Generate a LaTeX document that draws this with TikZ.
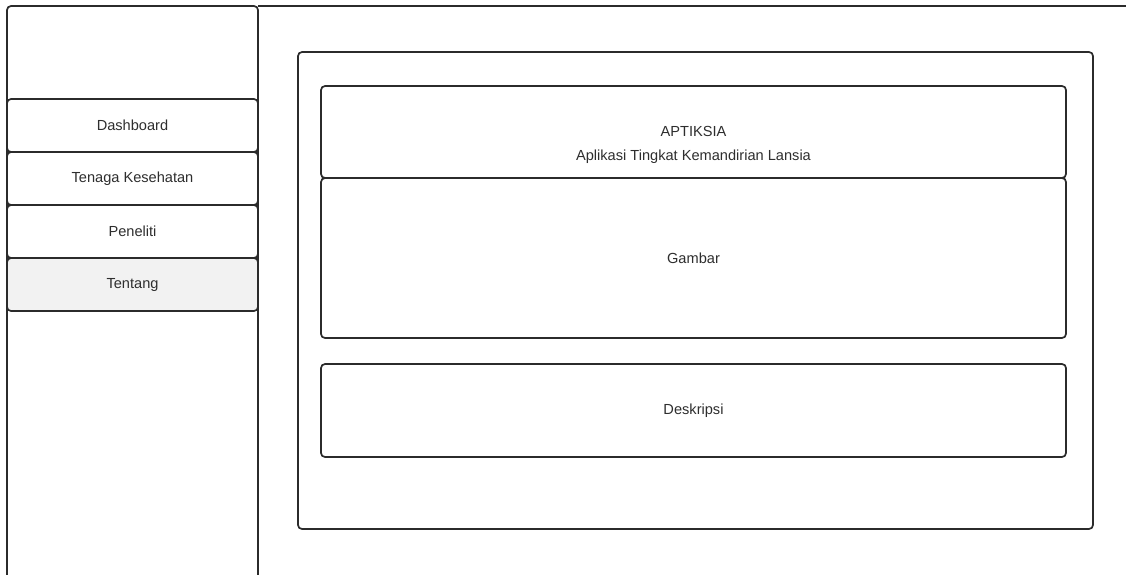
\documentclass[tikz,border=0pt]{standalone}
\usepackage{fontspec}
\setmainfont{Liberation Sans}
\definecolor{edge}{HTML}{2B2B2B}
\definecolor{activefill}{HTML}{F2F2F2}
\definecolor{label}{HTML}{2E2E2E}
\begin{document}
\begin{tikzpicture}[x=1pt, y=-1pt,
  frame/.style={draw=edge, line width=1.7pt, rounded corners=4pt},
  box/.style={frame, rectangle, anchor=north west, inner sep=0pt, outer sep=0pt,
    fill=white, text=label, font=\fontsize{14.6}{17}\selectfont},
  menuitem/.style={box, minimum width=251pt, minimum height=53pt},
  txt/.style={text=label, font=\fontsize{14.6}{17}\selectfont, inner sep=0pt}]
\useasboundingbox (0,0) rectangle (1126,574);

% sidebar (open at the bottom) and top bar line
\coordinate (sbl) at (7,580);
\coordinate (sbr) at (258,580);
\coordinate (tr) at (1130,6);
\draw[frame] (sbl) -- (7,6) -- (258,6) -- (sbr);
\draw[draw=edge, line width=1.7pt] (258,6) -- (tr);

% menu entries
\node[menuitem] (dash) at (7,99) {};
\node[txt] at (dash.center) {Dashboard};
\node[menuitem] (tenaga) at (7,152) {};
\node[txt] at (tenaga.center) {Tenaga Kesehatan};
\node[menuitem] (peneliti) at (7,205) {};
\node[txt] at (peneliti.center) {Peneliti};
\node[menuitem, fill=activefill] (tentang) at (7,258) {};
\node[txt] at (tentang.center) {Tentang};

% content panel
\node[box, minimum width=795pt, minimum height=477pt] (panel) at (298,52) {};
\node[box, minimum width=745pt, minimum height=92pt] (header) at (321,86) {};
\node[txt] (title) at (693.5,131) {APTIKSIA};
\node[txt] (subtitle) at (693.5,157) {Aplikasi Tingkat Kemandirian Lansia};
\node[box, minimum width=745pt, minimum height=160pt] (gambar) at (321,178) {};
\node[txt] at (gambar.center) {Gambar};
\node[box, minimum width=745pt, minimum height=93pt] (deskripsi) at (321,364) {};
\node[txt] at (deskripsi.center) {Deskripsi};
\end{tikzpicture}
\end{document}
